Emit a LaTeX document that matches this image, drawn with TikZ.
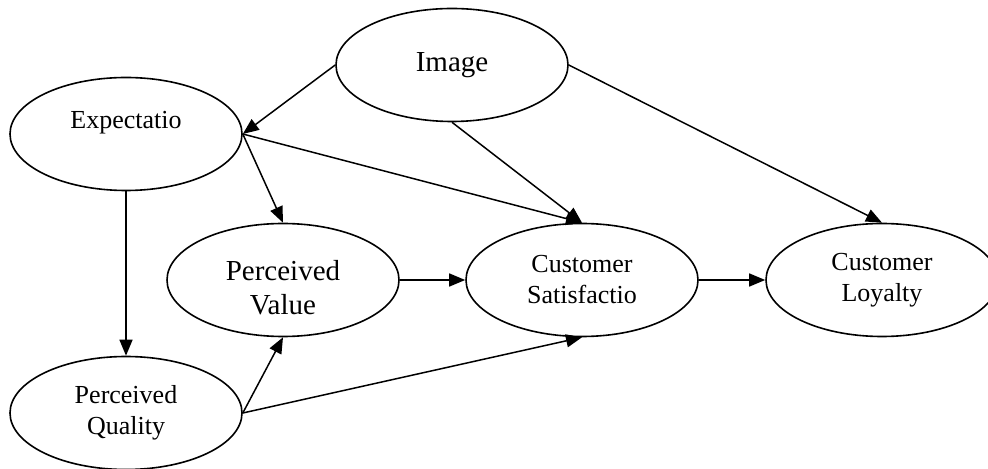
\documentclass[tikz,border=0pt]{standalone}
\usepackage{fontspec}
\setmainfont{Liberation Serif}
\usetikzlibrary{arrows.meta,shapes.geometric}
\tikzset{
  >={Triangle[length=8pt,width=6.5pt]},
  link/.style={->,line width=0.75pt,draw=black},
  latent/.style={ellipse,draw=black,line width=0.8pt,inner sep=0pt,
    minimum width=116pt,minimum height=56.5pt,align=center,
    font=\fontsize{13}{15.5}\selectfont},
  biglatent/.style={latent,font=\fontsize{14.5}{17}\selectfont}
}

\begin{document}
\begin{tikzpicture}[x=0.5pt,y=-0.5pt]
  \useasboundingbox (0,0) rectangle (988,469);
  \node[biglatent] (img) at (452,65) {Image};
  \node[latent] (exp) at (126,134) {Expectatio\rule[-14pt]{0pt}{14pt}};
  \node[biglatent] (pv) at (283,280) {\rule{0pt}{18pt}Perceived\\Value};
  \node[latent] (cs) at (582,280) {Customer\\Satisfactio};
  \node[latent] (cl) at (882,280) {Customer\\Loyalty};
  \node[latent] (pq) at (126,413) {Perceived\\Quality};
  % arrows
  \draw[link] (img.west) -- (exp.east);
  \draw[link] (img.south) -- (cs.north);
  \draw[link] (img.east) -- (cl.north);
  \draw[link] (exp.east) -- (pv.north);
  \draw[link] (exp.east) -- (cs.north);
  \draw[link] (exp.south) -- (pq.north);
  \draw[link] (pq.east) -- (pv.south);
  \draw[link] (pq.east) -- (cs.south);
  \draw[link] (pv.east) -- (cs.west);
  \draw[link] (cs.east) -- (cl.west);
\end{tikzpicture}
\end{document}
